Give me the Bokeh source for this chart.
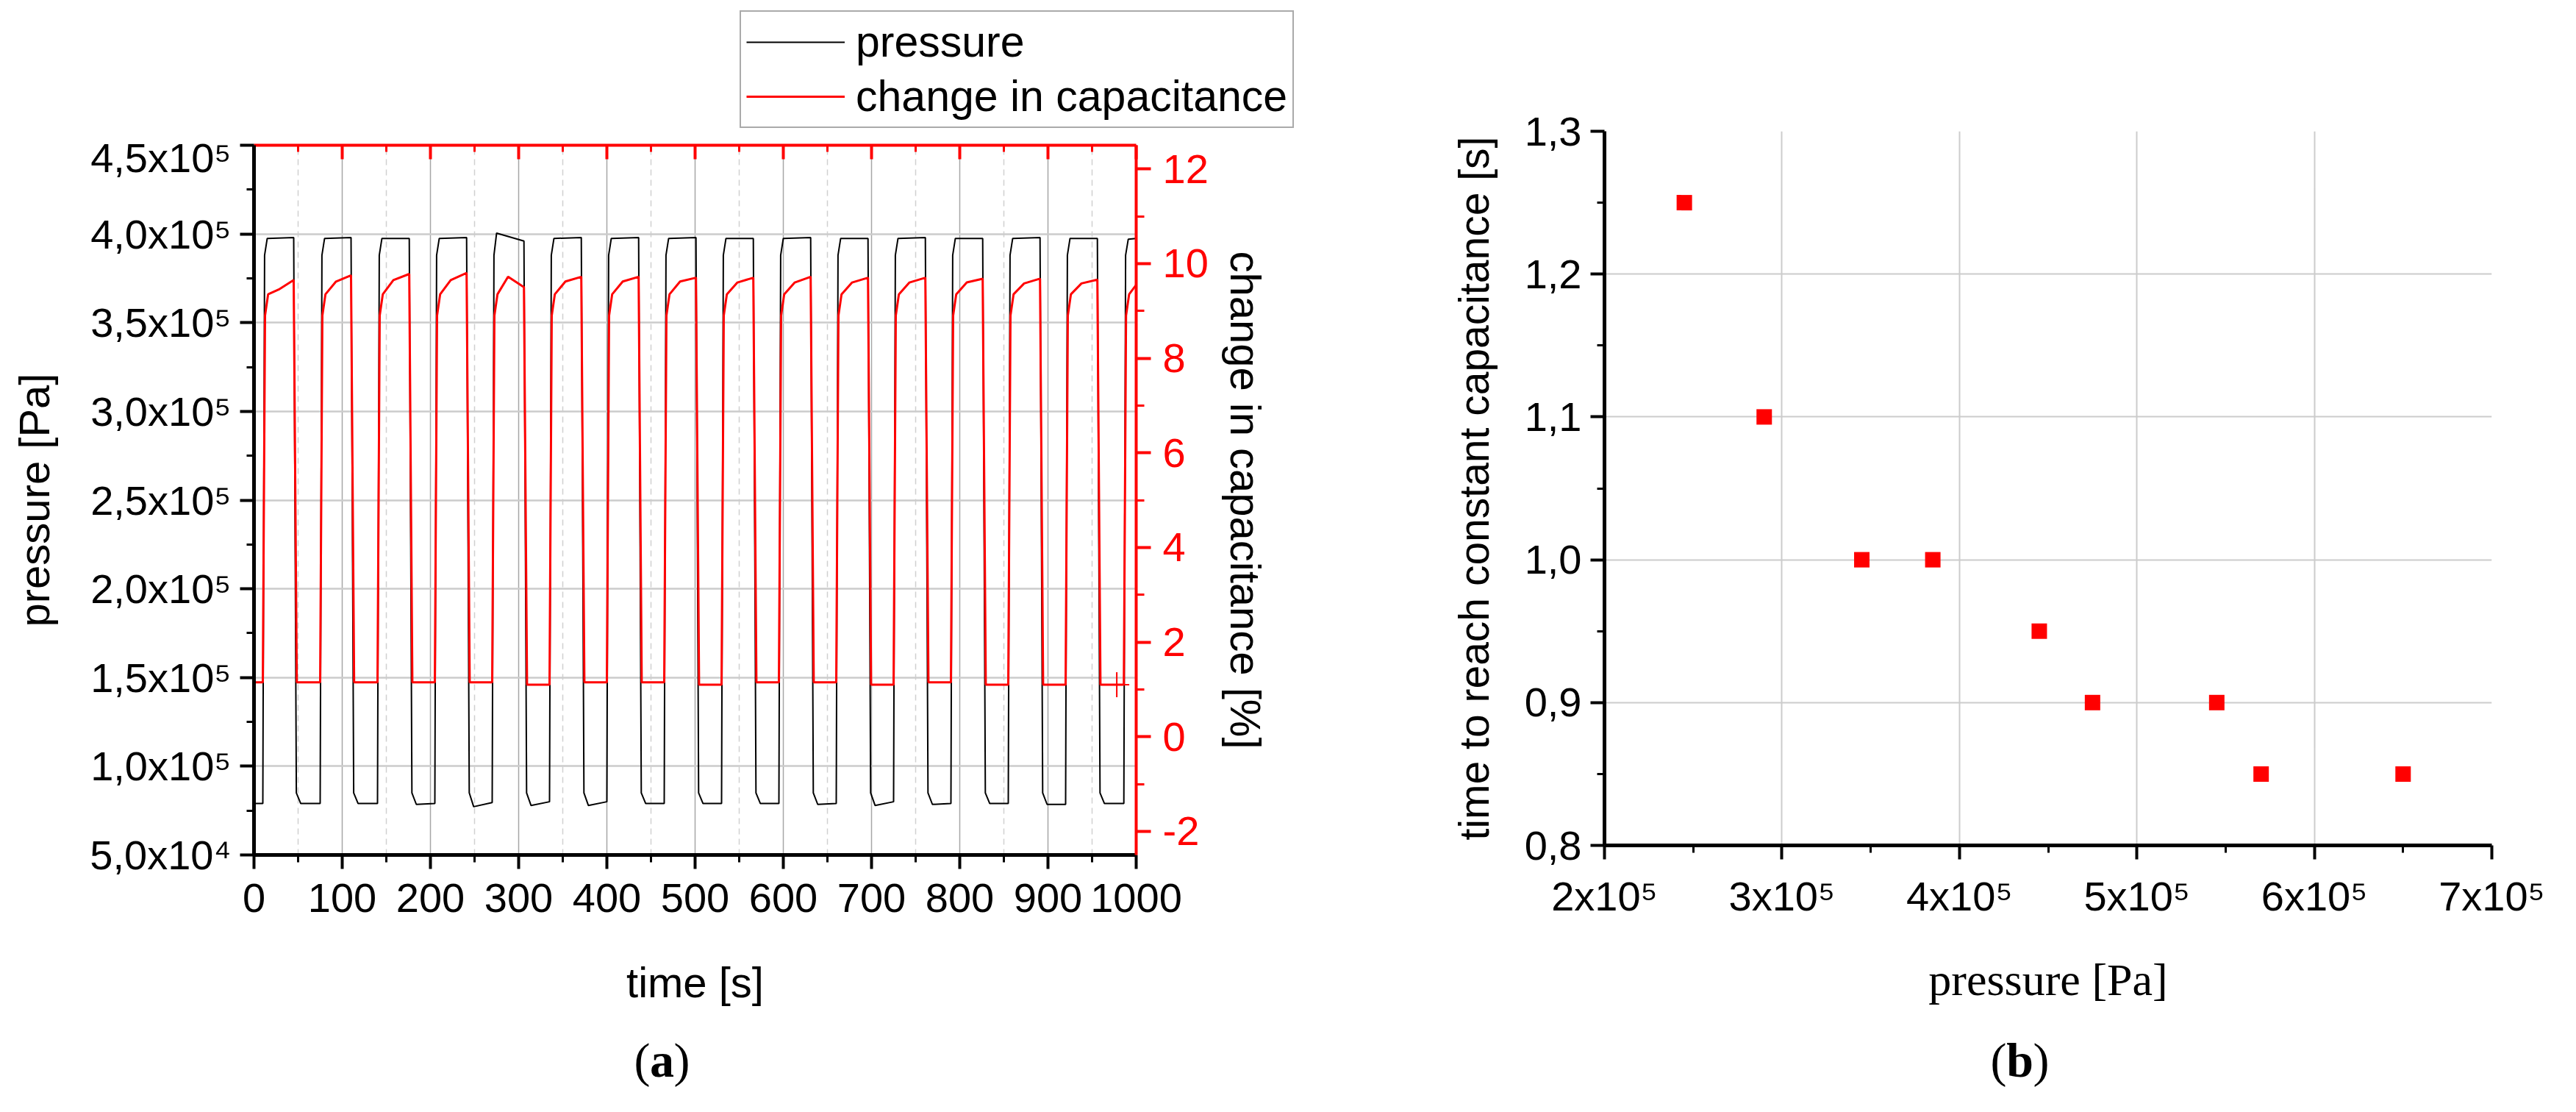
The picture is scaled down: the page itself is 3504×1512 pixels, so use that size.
from bokeh.plotting import figure
from bokeh.models import Range1d, LinearAxis, FixedTicker, Legend, LegendItem, Label
from bokeh.layouts import row, column
from bokeh.embed import file_html
from bokeh.resources import INLINE

# ======================= panel (a): values =======================
time_ticks = [0, 100, 200, 300, 400, 500, 600, 700, 800, 900, 1000]
time_minor = [50, 150, 250, 350, 450, 550, 650, 750, 850, 950]
pressure_ticks = [5.0e4, 1.0e5, 1.5e5, 2.0e5, 2.5e5, 3.0e5, 3.5e5, 4.0e5, 4.5e5]
pressure_tick_labels = ["5,0x10⁴", "1,0x10⁵", "1,5x10⁵", "2,0x10⁵", "2,5x10⁵",
                        "3,0x10⁵", "3,5x10⁵", "4,0x10⁵", "4,5x10⁵"]
pressure_minor = [7.5e4, 1.25e5, 1.75e5, 2.25e5, 2.75e5, 3.25e5, 3.75e5, 4.25e5]
cap_ticks = [-2, 0, 2, 4, 6, 8, 10, 12]
cap_minor = [-1, 1, 3, 5, 7, 9, 11]

# start of each pressure rise and of each pressure release [s]
rise_start = [10, 75, 140, 205, 270, 335, 400, 465, 530, 595, 660, 725, 790, 855, 920, 986]
fall_start = [45, 110, 176, 241, 306, 371, 436, 501, 566, 631, 696, 761, 826, 891, 956]

# pressure levels [Pa]
p_high_start = [3.975e5, 3.975e5, 3.975e5, 3.975e5, 4.005e5, 3.975e5, 3.975e5, 3.975e5,
                3.975e5, 3.975e5, 3.975e5, 3.975e5, 3.975e5, 3.975e5, 3.975e5, 3.97e5]
p_high_end = [3.98e5, 3.98e5, 3.975e5, 3.98e5, 3.96e5, 3.98e5, 3.98e5, 3.98e5,
              3.975e5, 3.98e5, 3.975e5, 3.98e5, 3.975e5, 3.98e5, 3.975e5, 3.975e5]
p_low_start = [0.79e5, 0.79e5, 0.79e5, 0.785e5, 0.772e5, 0.779e5, 0.779e5, 0.79e5,
               0.79e5, 0.79e5, 0.785e5, 0.779e5, 0.785e5, 0.79e5, 0.785e5, 0.79e5]
p_low_end = [0.79e5, 0.79e5, 0.79e5, 0.79e5, 0.795e5, 0.80e5, 0.80e5, 0.79e5,
             0.79e5, 0.79e5, 0.79e5, 0.80e5, 0.79e5, 0.79e5, 0.785e5, 0.79e5]
p_knee = 3.88e5      # pressure where the rise bends over
p_drop = 0.85e5      # pressure where the release bends over

# change in capacitance [%]
c_low = [1.15, 1.15, 1.15, 1.15, 1.15, 1.1, 1.15, 1.15, 1.1, 1.15, 1.15, 1.1, 1.15, 1.1, 1.1, 1.1]
c_knee = 8.9
c_bend = 9.35
c_mid = [9.45, 9.62, 9.65, 9.65, 9.72, 9.62, 9.62, 9.62, 9.6, 9.6, 9.6, 9.6, 9.6, 9.58, 9.58, 9.55]
c_end = [9.65, 9.75, 9.78, 9.8, 9.5, 9.72, 9.72, 9.7, 9.7, 9.72, 9.7, 9.7, 9.68, 9.68, 9.66, 9.55]
marker_t = [978]
marker_c = [1.1]

# ======================= panel (b): values =======================
b_pressure = [2.45e5, 2.90e5, 3.45e5, 3.85e5, 4.45e5, 4.75e5, 5.45e5, 5.70e5, 6.50e5]
b_time = [1.25, 1.10, 1.00, 1.00, 0.95, 0.90, 0.90, 0.85, 0.85]
b_x_ticks = [2e5, 3e5, 4e5, 5e5, 6e5, 7e5]
b_x_labels = ["2x10⁵", "3x10⁵", "4x10⁵", "5x10⁵", "6x10⁵", "7x10⁵"]
b_x_minor = [2.5e5, 3.5e5, 4.5e5, 5.5e5, 6.5e5]
b_y_ticks = [0.8, 0.9, 1.0, 1.1, 1.2, 1.3]
b_y_labels = ["0,8", "0,9", "1,0", "1,1", "1,2", "1,3"]
b_y_minor = [0.85, 0.95, 1.05, 1.15, 1.25]

legend_labels = ["pressure", "change in capacitance"]
captions = ["a", "b"]

T_END = 1000


def build_pressure():
    t, v = [0.0], [p_low_start[0]]
    for k, r in enumerate(rise_start):
        t += [r, r + 2, r + 5]
        v += [p_low_end[k], p_knee, p_high_start[k]]
        if k < len(fall_start):
            f = fall_start[k]
            t += [f, f + 3, f + 8]
            v += [p_high_end[k], p_drop, p_low_start[k + 1]]
        else:
            t.append(T_END)
            v.append(p_high_end[k])
    return t, v


def build_cap():
    t, v = [0.0], [c_low[0]]
    for k, r in enumerate(rise_start):
        pts = [(r, c_low[k]), (r + 2.5, c_knee), (r + 6, c_bend), (r + 18, c_mid[k])]
        if k < len(fall_start):
            f = fall_start[k]
            pts += [(f, c_end[k]), (f + 3.5, c_low[k + 1])]
        else:
            pts = [pt for pt in pts if pt[0] < T_END] + [(T_END, c_end[k])]
        for a, b in pts:
            t.append(a)
            v.append(b)
    return t, v


SANS = "Liberation Sans"
SERIF = "Liberation Serif"
TICK_FS = "56px"
TITLE_FS = "58px"
RED = "#ff0000"

WA, WB = 1892, 1596
LEG_H = 182
CAP_H = 94
H_B = 1496 - CAP_H          # 1402
H_A = H_B - LEG_H           # 1220

# frame geometry (figure-relative)
A_LEFT, A_FW, A_TOP, A_FH = 345, 1200, 15, 965
B_LEFT, B_FW, B_TOP, B_FH = 290, 1207, 178, 971


def style_axis(ax, color="black", lw=5):
    ax.axis_line_color = color
    ax.axis_line_width = lw
    ax.major_tick_line_color = color
    ax.minor_tick_line_color = color
    ax.major_tick_line_width = 4
    ax.minor_tick_line_width = 3
    ax.major_tick_in = 0
    ax.minor_tick_in = 0
    ax.major_tick_out = 19
    ax.minor_tick_out = 10
    ax.major_label_text_font = SANS
    ax.major_label_text_font_size = TICK_FS
    ax.major_label_text_color = color
    ax.axis_label_text_font = SANS
    ax.axis_label_text_font_size = TITLE_FS
    ax.axis_label_text_font_style = "normal"
    ax.axis_label_text_color = "black"


def blank_fig(w, h, left=0, right=0):
    f = figure(width=w, height=h, output_backend="svg", toolbar_location=None,
               x_range=Range1d(0, 1), y_range=Range1d(0, 1),
               x_axis_type=None, y_axis_type=None,
               min_border_left=left, min_border_right=right,
               min_border_top=0, min_border_bottom=0,
               outline_line_color=None, background_fill_color="white", border_fill_color="white")
    f.xgrid.visible = False
    f.ygrid.visible = False
    return f


# ======================= legend strip above (a) =======================
legF = blank_fig(WA, LEG_H)
# key renderers for the legend only; their points lie outside the strip's ranges
d_p = legF.line([10, 11], [10, 10], line_color="black", line_width=2)
d_c = legF.line([10, 11], [10, 10], line_color=RED, line_width=3)
legend = Legend(items=[LegendItem(label=legend_labels[0], renderers=[d_p]),
                       LegendItem(label=legend_labels[1], renderers=[d_c])],
                location=(1006, 8))
legend.label_text_font = SANS
legend.label_text_font_size = "59px"
legend.label_text_color = "black"
legend.glyph_width = 134
legend.glyph_height = 40
legend.label_standoff = 15
legend.padding = 7
legend.spacing = 6
legend.margin = 0
legend.border_line_color = "#555555"
legend.border_line_width = 2
legend.background_fill_color = "white"
legend.background_fill_alpha = 1.0
legF.add_layout(legend)

# ======================= figure (a) =======================
pA = figure(width=WA, height=H_A, output_backend="svg", toolbar_location=None,
            x_range=Range1d(0, 1000), y_range=Range1d(5.0e4, 4.5e5),
            min_border_left=A_LEFT, min_border_right=WA - A_LEFT - A_FW,
            min_border_top=A_TOP, min_border_bottom=H_A - A_TOP - A_FH,
            background_fill_color="white", border_fill_color="white", outline_line_color=None)
pA.extra_y_ranges = {"cap": Range1d(-2.5, 12.5)}

tp, vp = build_pressure()
tc, vc = build_cap()
pA.line(tp, vp, line_color="black", line_width=2)
pA.line(tc, vc, line_color=RED, line_width=3, y_range_name="cap")
pA.scatter(marker_t, marker_c, marker="cross", size=34, line_color=RED, line_width=2,
           y_range_name="cap")

xa = pA.xaxis[0]
xa.ticker = FixedTicker(ticks=time_ticks, minor_ticks=time_minor)
xa.major_label_overrides = {t: str(t) for t in time_ticks}
xa.axis_label = "time [s]"
style_axis(xa)
xa.major_label_standoff = 20
xa.axis_label_standoff = 60

ya = pA.yaxis[0]
ya.ticker = FixedTicker(ticks=pressure_ticks, minor_ticks=pressure_minor)
ya.major_label_overrides = dict(zip(pressure_ticks, pressure_tick_labels))
ya.axis_label = "pressure [Pa]"
style_axis(ya)
ya.major_label_standoff = 12
ya.axis_label_standoff = 40

ra = LinearAxis(y_range_name="cap", ticker=FixedTicker(ticks=cap_ticks, minor_ticks=cap_minor),
                axis_label="change in capacitance [%]")
ra.major_label_overrides = {t: str(t) for t in cap_ticks}
style_axis(ra, RED, 4)
ra.major_tick_out = 20
ra.minor_tick_out = 11
ra.major_label_standoff = 16
ra.axis_label_standoff = 15
pA.add_layout(ra, "right")

ta = LinearAxis(ticker=FixedTicker(ticks=time_ticks, minor_ticks=time_minor))
ta.major_label_overrides = {t: "" for t in time_ticks}
style_axis(ta, RED, 4)
ta.major_label_text_font_size = "1px"
ta.major_label_standoff = 0
ta.major_tick_in = 19
ta.major_tick_out = 0
ta.minor_tick_in = 9
ta.minor_tick_out = 0
pA.add_layout(ta, "above")

pA.xgrid.grid_line_color = "#a6a6a6"
pA.xgrid.grid_line_width = 1.5
pA.xgrid.minor_grid_line_color = "#d0d0d0"
pA.xgrid.minor_grid_line_width = 1.5
pA.xgrid.minor_grid_line_dash = "8 6"
pA.ygrid.grid_line_color = "#cccccc"
pA.ygrid.grid_line_width = 2.5

# ======================= figure (b) =======================
pB = figure(width=WB, height=H_B, output_backend="svg", toolbar_location=None,
            x_range=Range1d(2e5, 7e5), y_range=Range1d(0.8, 1.3),
            min_border_left=B_LEFT, min_border_right=WB - B_LEFT - B_FW,
            min_border_top=B_TOP, min_border_bottom=H_B - B_TOP - B_FH,
            background_fill_color="white", border_fill_color="white", outline_line_color=None)
pB.scatter(b_pressure, b_time, marker="square", size=21, fill_color=RED, line_color=None)

bx = pB.xaxis[0]
bx.ticker = FixedTicker(ticks=b_x_ticks, minor_ticks=b_x_minor)
bx.major_label_overrides = dict(zip(b_x_ticks, b_x_labels))
bx.axis_label = "pressure [Pa]"
style_axis(bx)
bx.axis_label_text_font = SERIF
bx.axis_label_text_font_size = "62px"
bx.major_label_standoff = 18
bx.axis_label_standoff = 45

by = pB.yaxis[0]
by.ticker = FixedTicker(ticks=b_y_ticks, minor_ticks=b_y_minor)
by.major_label_overrides = dict(zip(b_y_ticks, b_y_labels))
by.axis_label = "time to reach constant capacitance [s]"
style_axis(by)
by.axis_label_text_font_size = "57px"
by.major_label_standoff = 12
by.axis_label_standoff = 34

pB.xgrid.grid_line_color = "#cccccc"
pB.xgrid.grid_line_width = 2
pB.ygrid.grid_line_color = "#cccccc"
pB.ygrid.grid_line_width = 2


# ======================= captions (same side borders as the plot above) =======================
def caption_fig(w, left, fw, cx, letter, half):
    f = blank_fig(w, CAP_H, left, w - left - fw)
    for txt, dx, style in (("(", -half, "normal"), (letter, 0, "bold"), (")", half, "normal")):
        f.add_layout(Label(x=cx + dx, y=CAP_H - 39, x_units="screen", y_units="screen", text=txt,
                           text_font=SERIF, text_font_size="66px", text_font_style=style,
                           text_align="center", text_baseline="middle", text_color="black"))
    return f


capA = caption_fig(WA, A_LEFT, A_FW, 908 - 8 - A_LEFT, captions[0], 27)
capB = caption_fig(WB, B_LEFT, B_FW, 2755 - 1900 - B_LEFT, captions[1], 29)

layout = row(column(row(legF), pA, capA), column(pB, capB))
open("out.html", "w").write(file_html(layout, INLINE))
